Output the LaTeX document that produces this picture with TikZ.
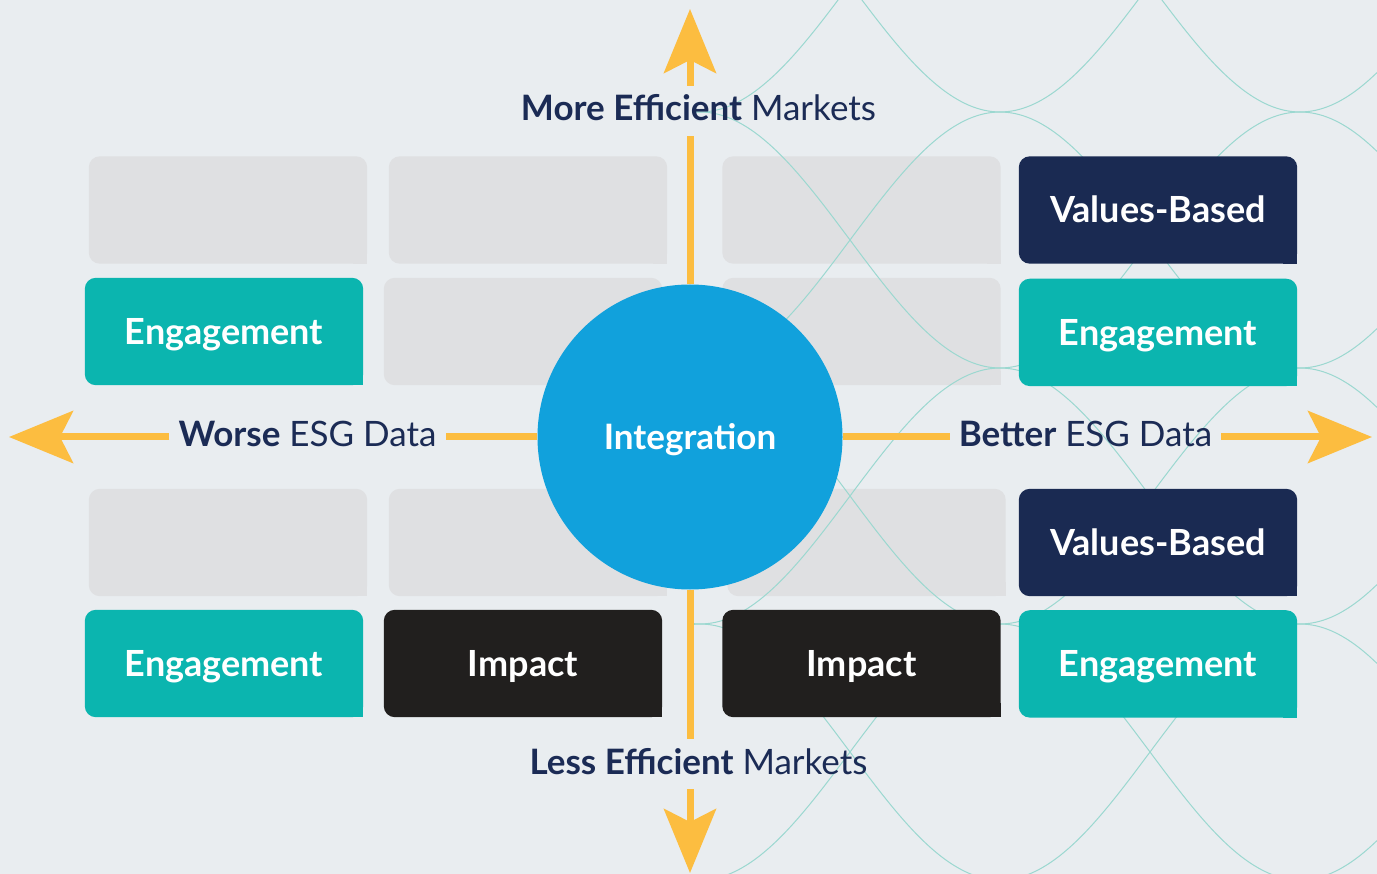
\documentclass[tikz,border=0pt]{standalone}
\usepackage{fontspec}
\setmainfont{Lato}
\usetikzlibrary{arrows.meta, positioning}

\definecolor{pagebg}{RGB}{233,237,240}
\definecolor{tilegrey}{RGB}{223,224,226}
\definecolor{esgteal}{RGB}{11,181,175}
\definecolor{esgnavy}{RGB}{26,42,82}
\definecolor{impactblack}{RGB}{33,31,30}
\definecolor{integblue}{RGB}{17,161,220}
\definecolor{axisgold}{RGB}{252,189,64}
\definecolor{wavegreen}{RGB}{155,216,208}
\definecolor{labelnavy}{RGB}{27,43,85}

\pgfdeclarelayer{back}
\pgfsetlayers{back,main}

% rounded tile with a square bottom right corner
\newcommand{\tilefill}[2]{%
  \fill[#2, rounded corners=11pt] (#1.south west) rectangle (#1.north east);
  \fill[#2] (#1.south east) rectangle ++(-14,-14);
}

\begin{document}
\begin{tikzpicture} [x=1pt, y=-1pt,
	tile/.style={minimum width=278pt, minimum height=107pt, inner sep=0pt, text=white,
		text height=25.5pt, text depth=0pt, font=\fontsize{36}{42}\selectfont\bfseries},
	axis/.style={line width=7pt, axisgold},
	axistip/.style={-{Stealth[length=64pt, width=52pt, inset=13pt]}},
	axislabel/.style={text=labelnavy, font=\fontsize{35}{42}\selectfont,
		text height=25pt, text depth=5pt, inner xsep=9pt, inner ysep=10pt},
	wave/.style={wavegreen, line width=1pt}]

\useasboundingbox (0,0) rectangle (1377,874);

% grey place holders
\node[tile] (g1) at (228,210)   {};
\node[tile] (g2) at (528,210)   {};
\node[tile] (g3) at (861.5,210) {};
\node[tile] (g4) at (523,331.5) {};
\node[tile] (g5) at (861.5,331.5) {};
\node[tile] (g6) at (228,542.5) {};
\node[tile] (g7) at (528,542.5) {};
\node[tile] (g8) at (866.5,542.5) {};

% strategies
\node[tile] (valuesA)	at (1158,210)		{Values-Based};
\node[tile] (engageB)	[below=15pt of valuesA]	{Engagement};
\node[tile] (engageA)	at (224,331.5)		{Engagement};
\node[tile] (valuesB)	at (1158,542.5)		{Values-Based};
\node[tile] (engageD)	[below=14pt of valuesB]	{Engagement};
\node[tile] (engageC)	at (224,663.5)		{Engagement};
\node[tile] (impactA)	at (523,663.5)		{Impact};
\node[tile] (impactB)	at (861.5,663.5)	{Impact};

\begin{pgfonlayer}{back}
	\fill[pagebg] (0,0) rectangle (1377,874);
	\foreach \g in {g1,g2,g3,g4,g5,g6,g7,g8} {
		\tilefill{\g}{tilegrey}
	}
	% two waves in opposite phase per band
	\begin{scope}
		\clip (692,0) rectangle (1377,874);
		\foreach \k in {-1,0,1,2} {
			\draw[wave] plot[domain=692:1377, samples=90, smooth]
				(\x, {112+256*\k+128*(1-cos(0.6*(\x-1000)))});
			\draw[wave] plot[domain=692:1377, samples=90, smooth]
				(\x, {112+256*\k+128*(1+cos(0.6*(\x-1000)))});
		}
	\end{scope}
	\tilefill{valuesA}{esgnavy}
	\tilefill{valuesB}{esgnavy}
	\tilefill{engageA}{esgteal}
	\tilefill{engageB}{esgteal}
	\tilefill{engageC}{esgteal}
	\tilefill{engageD}{esgteal}
	\tilefill{impactA}{impactblack}
	\tilefill{impactB}{impactblack}
\end{pgfonlayer}

% centre and axes
\node[circle, fill=integblue, minimum size=305pt, inner sep=0pt, text=white,
	text height=25pt, text depth=0pt, font=\fontsize{35}{42}\selectfont\bfseries]
	(integ) at (690,437) {Integration};

\coordinate (toptip)	at (690,9);
\coordinate (bottip)	at (690,873);
\coordinate (lefttip)	at (9,437);
\coordinate (righttip)	at (1372,437);

\node[axislabel] (more)		at (698.5,111)	{\bfseries More Efficient\mdseries{} Markets};
\node[axislabel] (less)		at (698.5,764)	{\bfseries Less Efficient\mdseries{} Markets};
\node[axislabel] (worse)	at (307.5,436.5)	{\bfseries Worse\mdseries{} ESG Data};
\node[axislabel] (better)	at (1085.5,436.5)	{\bfseries Better\mdseries{} ESG Data};

\draw[axis]		(integ) -- (integ |- more.south);
\draw[axis, axistip]	(toptip |- more.north) -- (toptip);
\draw[axis]		(integ) -- (integ |- less.north);
\draw[axis, axistip]	(bottip |- less.south) -- (bottip);
\draw[axis]		(integ) -- (worse.east |- integ);
\draw[axis, axistip]	(worse.west |- lefttip) -- (lefttip);
\draw[axis]		(integ) -- (better.west |- integ);
\draw[axis, axistip]	(better.east |- righttip) -- (righttip);

\end{tikzpicture}
\end{document}
